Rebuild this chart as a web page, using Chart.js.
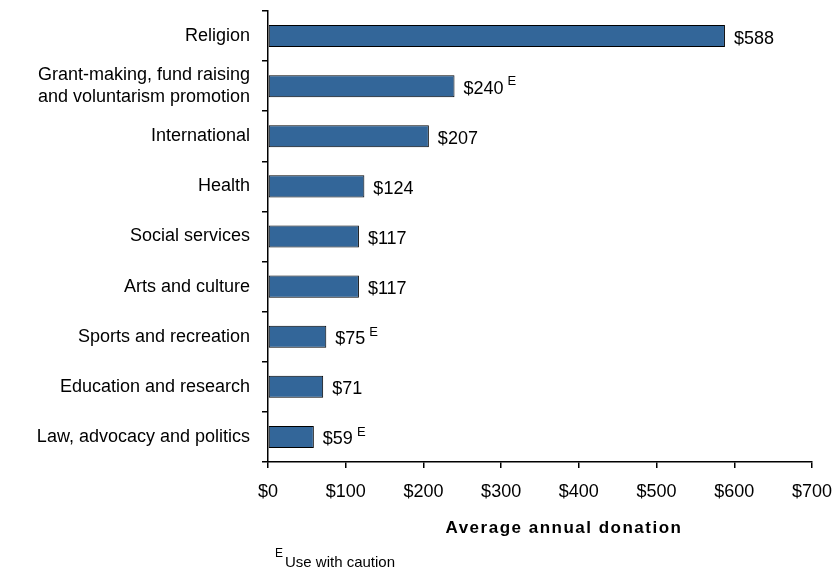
<!DOCTYPE html>
<html>
<head>
<meta charset="utf-8">
<script src="https://cdn.jsdelivr.net/npm/chart.js@4"></script>
<style>
body { margin: 0; background: #fff; }
#wrap { width: 832px; height: 571px; position: relative; }
</style>
</head>
<body>
<div id="wrap"><canvas id="grafico"></canvas></div>
<script>
// Donations by cause
const causes = [
  "Religion",
  ["Grant-making, fund raising", "and voluntarism promotion"],
  "International",
  "Health",
  "Social services",
  "Arts and culture",
  "Sports and recreation",
  "Education and research",
  "Law, advocacy and politics"
];
const donations = [588, 240, 207, 124, 117, 117, 75, 71, 59];
const caution = [false, true, false, false, false, false, true, false, true];
const tickValues = [0, 100, 200, 300, 400, 500, 600, 700];

const FONT = "'Liberation Sans', Arial, sans-serif";

// value labels with the "E" mark, axis title and footnote
const labels = {
  id: "labels",
  afterDatasetsDraw(chart) {
    const c = chart.ctx;
    const meta = chart.getDatasetMeta(0);
    c.save();
    c.fillStyle = "#000";
    c.textBaseline = "alphabetic";
    c.textAlign = "left";
    meta.data.forEach((bar, i) => {
      const txt = "$" + donations[i];
      c.font = "18px " + FONT;
      const x = bar.x + 9;
      c.fillText(txt, x, bar.y + 7.5);
      if (caution[i]) {
        const w = c.measureText(txt).width;
        c.font = "13px " + FONT;
        c.fillText("E", x + w + 4, bar.y - 1);
      }
    });
    c.font = "bold 17px " + FONT;
    c.letterSpacing = "1.5px";
    c.textAlign = "center";
    c.fillText("Average annual donation", 564, 533);
    c.letterSpacing = "0px";
    c.textAlign = "left";
    c.font = "12px " + FONT;
    c.fillText("E", 275, 557);
    c.font = "15px " + FONT;
    c.fillText("Use with caution", 285, 567);
    c.restore();
  }
};

new Chart(document.getElementById("grafico"), {
  type: "bar",
  data: {
    labels: causes,
    datasets: [{
      data: donations,
      backgroundColor: "#336699",
      borderColor: "#000",
      borderWidth: 1,
      borderSkipped: false,
      categoryPercentage: 0.88,
      barPercentage: 0.5
    }]
  },
  options: {
    indexAxis: "y",
    responsive: true,
    maintainAspectRatio: false,
    animation: false,
    layout: { padding: { top: 11, right: 20, left: 0, bottom: 0 } },
    plugins: { legend: { display: false }, tooltip: { enabled: false } },
    scales: {
      x: {
        min: 0,
        max: 700,
        afterBuildTicks: s => { s.ticks = tickValues.map(v => ({ value: v })); },
        afterFit: s => { s.height = 109; s.paddingLeft = 0; s.paddingRight = 0; },
        border: { color: "#000", width: 1.5 },
        grid: { drawOnChartArea: false, color: "#000", tickLength: 6, lineWidth: 1.5 },
        ticks: {
          color: "#000",
          font: { family: FONT, size: 18 },
          padding: 13,
          maxRotation: 0,
          callback: v => "$" + v
        }
      },
      y: {
        afterFit: s => { s.width = 268; s.paddingTop = 0; s.paddingBottom = 0; },
        border: { color: "#000", width: 1.5 },
        grid: { drawOnChartArea: false, color: "#000", tickLength: 6, lineWidth: 1.5, offset: true },
        ticks: {
          color: "#000",
          font: { family: FONT, size: 18, lineHeight: 1.25 },
          padding: 12,
          autoSkip: false
        }
      }
    }
  },
  plugins: [labels]
});
</script>
</body>
</html>
